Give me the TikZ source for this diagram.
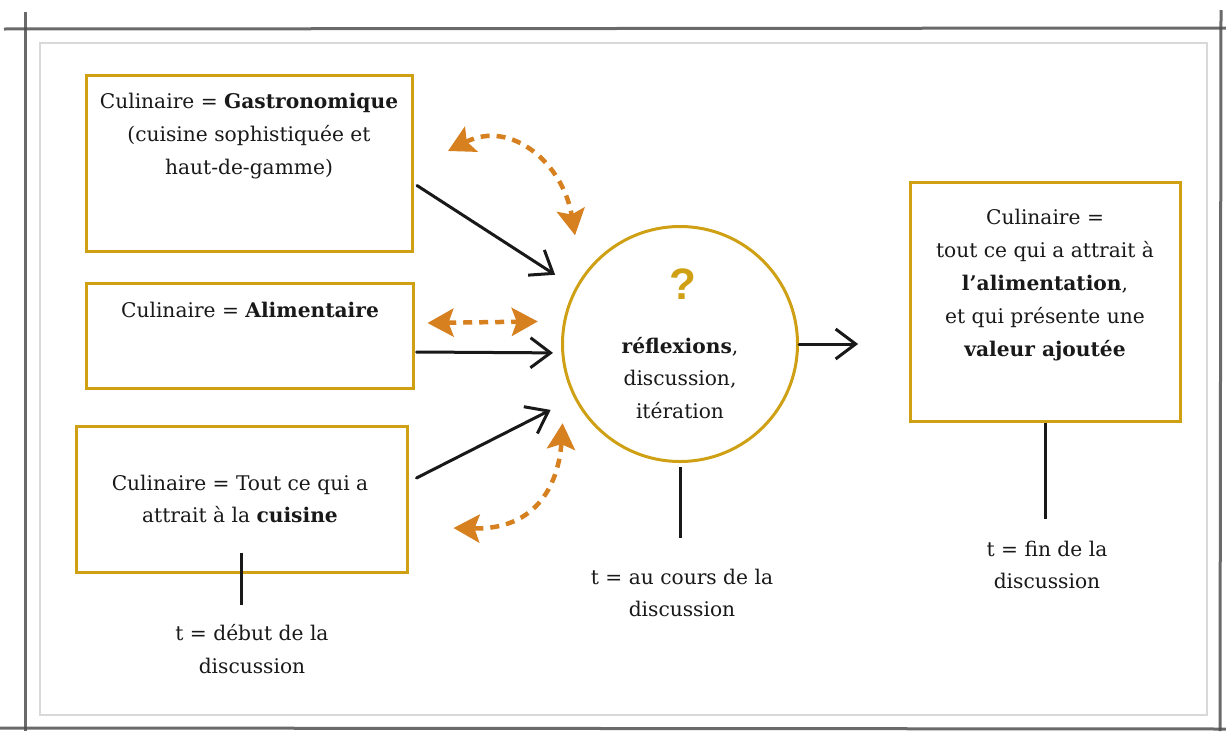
\documentclass[tikz,border=0pt]{standalone}
\usepackage{fontspec}
\setmainfont{DejaVu Serif}
\newfontfamily\qfont{Liberation Sans}
\usetikzlibrary{arrows.meta,calc}
\definecolor{gold}{RGB}{208,160,20}
\definecolor{orng}{RGB}{214,128,32}
\definecolor{ink}{RGB}{25,25,25}
\definecolor{framegray}{RGB}{80,80,80}
\tikzset{
  box/.style={draw=gold, line width=3pt, rectangle, inner sep=0pt},
  ring/.style={draw=gold, line width=3pt, circle, inner sep=0pt, minimum size=235pt},
  txt/.style={text=ink, align=center, font=\fontsize{20.2pt}{32.8pt}\selectfont, inner sep=0pt},
  blackarrow/.style={draw=ink, line width=3pt, line cap=round, -{Straight Barb[length=20pt,width=30pt]}},
  orangearrow/.style={draw=orng, line width=4.5pt, dash pattern=on 9pt off 7pt,
      {Stealth[length=26pt,width=28pt,inset=5pt]}-{Stealth[length=26pt,width=28pt,inset=5pt]}},
  tick/.style={draw=ink, line width=3pt},
  outerframe/.style={draw=framegray, line width=3pt, opacity=0.85},
  innerframe/.style={draw=gray!30, line width=1.2pt}
}
\begin{document}
\begin{tikzpicture}[x=1pt,y=-1pt]
\useasboundingbox (0,0) rectangle (1226,731);
\fill[white] (0,0) rectangle (1226,731);
% frame
\draw[outerframe] (4,29) -- (1226,28);
\draw[outerframe] (25,12) -- (25,731);
\draw[outerframe] (1221,10) -- (1220,731);
\draw[outerframe] (0,728) -- (1226,729);
\draw[innerframe] (40,43) rectangle (1207,715);

% boxes
\node[box, minimum width=326pt, minimum height=176pt] (b1) at (249.5,163.5) {};
\node[box, minimum width=327pt, minimum height=105pt] (b2) at (249.5,335.5) {};
\node[box, minimum width=331pt, minimum height=146pt] (b3) at (241.5,499) {};
\node[box, minimum width=270pt, minimum height=239pt] (b4) at (1045,301.5) {};
\node[ring] (c) at (680,344) {};

% texts
\node[txt] (t1) at (249,136) {Culinaire = \textbf{Gastronomique}\\(cuisine sophistiquée et\\haut-de-gamme)};
\node[txt] (t2) at (250,310) {Culinaire = \textbf{Alimentaire}};
\node[txt] (t3) at (240,499) {Culinaire = Tout ce qui a\\attrait à la \textbf{cuisine}};
\node[txt] (t4) at (1045,285) {Culinaire =\\tout ce qui a attrait à\\\textbf{l’alimentation},\\et qui présente une\\\textbf{valeur ajoutée}};
\node[txt] (tc) at (680,378) {\textbf{réflexions},\\discussion,\\itération};
\node[text=gold, font=\qfont\bfseries\fontsize{44pt}{44pt}\selectfont, inner sep=0pt] (q) at (683,284) {?};

% time labels
\node[txt] (l1) at (252,649) {t = début de la\\discussion};
\node[txt] (l2) at (682,593) {t = au cours de la\\discussion};
\node[txt] (l3) at (1047,565) {t = fin de la\\discussion};

% ticks
\draw[tick] ([yshift=21pt]b3.south) -- ([yshift=-31pt]b3.south);
\draw[tick] ([yshift=-4pt]c.south) -- ([yshift=-75pt]c.south);
\draw[tick] (b4.south) -- ([yshift=-96pt]b4.south);

% black arrows
\draw[blackarrow] ([xshift=3pt,yshift=-22pt]b1.east) -- ($(c.center)!1.2!(c.151)$);
\draw[blackarrow] ([xshift=2pt,yshift=-16.5pt]b2.east) -- ($(c.center)!1.07!(c.184)$);
\draw[blackarrow] ([xshift=8pt,yshift=21pt]b3.east) -- ($(c.center)!1.22!(c.207)$);
\coordinate (e4) at ($(c.east)!0.54!(c.east -| b4.west)$);
\draw[blackarrow] (c.east) -- (e4);

% orange dashed double arrows
\draw[orangearrow] ($(b1.north east)+(34,77)$) .. controls +(63,-32) and +(-12,-72) .. ($(c.center)!1.27!(c.134)$);
\draw[orangearrow] ($(b2.east)+(13,-12.5)$) -- ($(c.center)!1.21!(c.171.5)$);
\draw[orangearrow] ($(c.center)!1.19!(c.214)$) .. controls +(-3,48) and +(92,2) .. ($(b3.east)+(45,29)$);
\end{tikzpicture}
\end{document}
